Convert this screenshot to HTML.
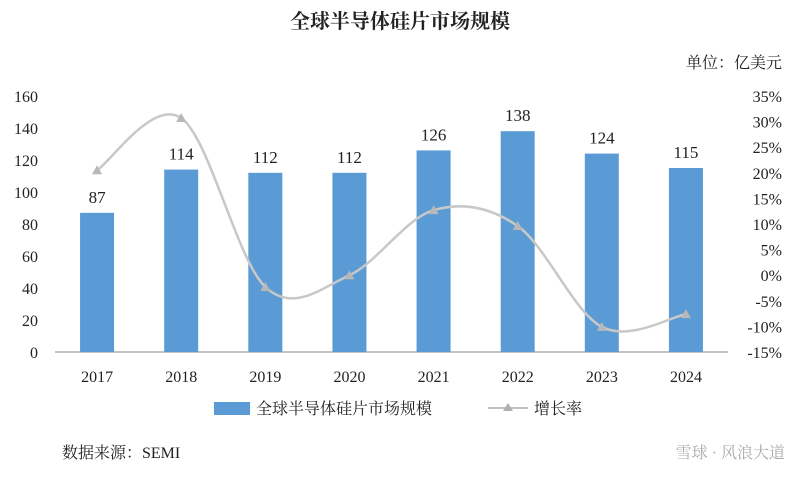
<!DOCTYPE html>
<html><head><meta charset="utf-8"><style>
body{margin:0;background:#fff;width:800px;height:472px;overflow:hidden}
svg text{font-family:"Liberation Serif","Noto Serif CJK SC",serif;fill:#222}
</style></head><body>
<svg id="c" width="800" height="472">
<text x="400" y="28" text-anchor="middle" font-size="20" font-weight="bold">全球半导体硅片市场规模</text>
<text x="782" y="68" text-anchor="end" font-size="16">单位：亿美元</text>
<g id="plot"></g>
<rect x="214" y="402" width="36" height="13" fill="#5B9BD5"/>
<text x="256" y="414" font-size="16">全球半导体硅片市场规模</text>
<line x1="488" y1="408" x2="528" y2="408" stroke="#c0c0c0" stroke-width="2"/>
<polygon points="508,403 513,411 503,411" fill="#b0b0b0"/>
<text x="534" y="414" font-size="16">增长率</text>
<text x="62" y="458" font-size="16">数据来源：SEMI</text>
<text x="785" y="458" text-anchor="end" font-size="16" fill="#aaa" style="fill:#aaa">雪球 · 风浪大道</text>
</svg>
<script>
const years=["2017","2018","2019","2020","2021","2022","2023","2024"];
const sizes=[87,114,112,112,126,138,124,115];
const growth=[20.5,30.7,-2.3,0,12.7,9.6,-10.1,-7.6];
const leftTicks=[0,20,40,60,80,100,120,140,160];
const rightTicks=[-15,-10,-5,0,5,10,15,20,25,30,35];
const NS="http://www.w3.org/2000/svg";
const g=document.getElementById('plot');
const x0=55,x1=728,yB=352,yT=96;
const step=(x1-x0)/years.length;
const xc=i=>x0+step*(i+0.5);
const yL=v=>yB-(v/160)*(yB-yT);
const yR=v=>yB-((v+15)/50)*(yB-yT);
function mk(t,a){const e=document.createElementNS(NS,t);for(const k in a)e.setAttribute(k,a[k]);g.appendChild(e);return e;}
let ax=mk('line',{x1:x0,y1:yB,x2:x1,y2:yB,stroke:'#888'});


leftTicks.forEach(v=>{const t=mk('text',{x:38,y:yL(v)+6,'text-anchor':'end','font-size':16});t.textContent=v;

});
rightTicks.forEach(v=>{const t=mk('text',{x:782,y:yR(v)+6,'text-anchor':'end','font-size':16});t.textContent=v+'%';

});
years.forEach((y,i)=>{
const b=mk('rect',{x:xc(i)-17,y:yL(sizes[i]),width:34,height:yB-yL(sizes[i]),fill:'#5B9BD5'});


const l=mk('text',{x:xc(i),y:yL(sizes[i])-10,'text-anchor':'middle','font-size':17});l.textContent=sizes[i];


const t=mk('text',{x:xc(i),y:yB+30,'text-anchor':'middle','font-size':16});t.textContent=y;


});
const pts=growth.map((v,i)=>[xc(i),yR(v)]);
let d='M'+pts[0][0]+','+pts[0][1];
for(let i=0;i<pts.length-1;i++){
const p0=pts[Math.max(i-1,0)],p1=pts[i],p2=pts[i+1],p3=pts[Math.min(i+2,pts.length-1)];
const c1=[p1[0]+(p2[0]-p0[0])/6,p1[1]+(p2[1]-p0[1])/6],c2=[p2[0]-(p3[0]-p1[0])/6,p2[1]-(p3[1]-p1[1])/6];
d+=` C${c1[0]},${c1[1]} ${c2[0]},${c2[1]} ${p2[0]},${p2[1]}`;}
const ln=mk('path',{d:d,fill:'none',stroke:'#c8c8c8','stroke-width':2.5});


pts.forEach(p=>{const m=mk('polygon',{points:`${p[0]},${p[1]-5} ${p[0]+5},${p[1]+4} ${p[0]-5},${p[1]+4}`,fill:'#b8b8b8'});

});
</script>
</body></html>
